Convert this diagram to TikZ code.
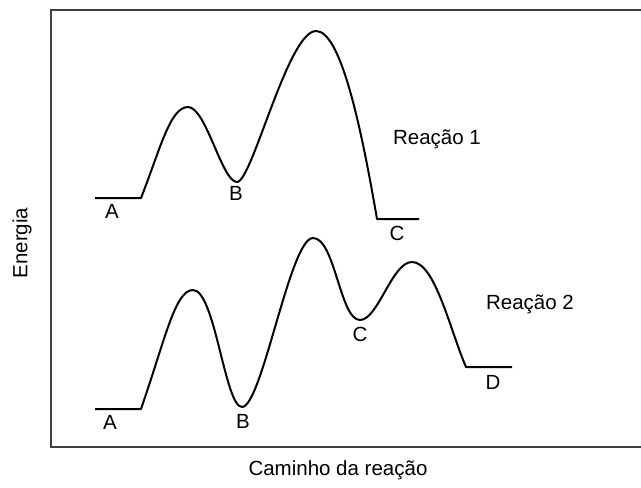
\documentclass[tikz,border=0pt]{standalone}
\usepackage{fontspec}
\setmainfont{Liberation Sans}
\usepackage{tikz}
\usetikzlibrary{positioning}
\tikzstyle{lbl} = [inner sep=0pt, font=\fontsize{20.5}{24}\selectfont]
\tikzstyle{curve} = [line width=2pt, black, line join=round]
\tikzstyle{frame} = [line width=2.2pt, black!75]

\begin{document}
\begin{tikzpicture}[x=1pt, y=-1pt]
    \useasboundingbox (0,0) rectangle (641,488);
    % axes
    \coordinate (top) at (51,10);
    \coordinate (orig) at (51,447);
    \draw [frame] (645,10) -- (top) -- (orig) -- (645,447);
    \node (ylab) [lbl, rotate=90] at (22,243) {Energia};
    \node (xlab) [lbl] at (338,470) {Caminho da reação};
    % reacao 1
    \draw [curve] (95,198) -- (141,198)
        .. controls (160,150) and (170,107) .. (188,107)
        .. controls (206,107) and (222,182) .. (237,182)
        .. controls (252,182) and (288,31) .. (316,31)
        .. controls (340,31) and (360,120) .. (377,219)
        -- (419,219);
    \node (a1) [lbl] at (112,211) {A};
    \node (b1) [lbl] at (236,193) {B};
    \node (c1) [lbl] at (397,233) {C};
    \node (r1) [lbl] at (437,139) {Reação 1};
    % reacao 2
    \draw [curve] (95,409) -- (141,409)
        .. controls (165,340) and (175,290) .. (193,290)
        .. controls (215,290) and (225,407) .. (242,407)
        .. controls (262,407) and (290,238) .. (313,238)
        .. controls (335,238) and (340,320) .. (360,320)
        .. controls (378,320) and (392,262) .. (412,262)
        .. controls (435,262) and (450,330) .. (466,367)
        -- (512,367);
    \node (a2) [lbl] at (110,422) {A};
    \node (b2) [lbl] at (243,421) {B};
    \node (c2) [lbl] at (360,334) {C};
    \node (d2) [lbl] at (493,382) {D};
    \node (r2) [lbl] at (530,304) {Reação 2};
\end{tikzpicture}
\end{document}
